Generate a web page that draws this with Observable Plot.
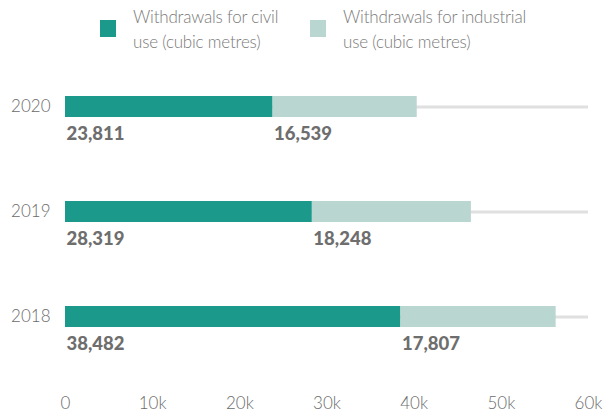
<!DOCTYPE html>
<html>
<head>
<meta charset="utf-8">
<script src="https://cdn.jsdelivr.net/npm/d3@7"></script>
<script src="https://cdn.jsdelivr.net/npm/@observablehq/plot@0.6"></script>
<style>
  html, body { margin: 0; padding: 0; background: #fff; }
  body { width: 603px; height: 414px; overflow: hidden; font-family: Lato, sans-serif; }
  #legend { position: relative; width: 603px; height: 60px; }
  .sw { position: absolute; width: 16px; height: 17px; top: 20px; }
  .lt { position: absolute; top: 5px; font-size: 17px; line-height: 24.5px; color: #7a7a7a; font-weight: 300; letter-spacing: -0.2px; }
  svg { display: block; }
</style>
</head>
<body>
<div id="legend"></div>
<div id="chart"></div>
<script>
const years = ["2020", "2019", "2018"];
const civil = [23811, 28319, 38482];
const industrial = [16539, 18248, 17807];
const seriesNames = ["Withdrawals for civil use (cubic metres)", "Withdrawals for industrial use (cubic metres)"];
const legendLines = [["Withdrawals for civil", "use (cubic metres)"], ["Withdrawals for industrial", "use (cubic metres)"]];
const colors = ["#1b998b", "#b9d6d0"];
const xTicks = [0, 10000, 20000, 30000, 40000, 50000, 60000];
const xTickLabels = ["0", "10k", "20k", "30k", "40k", "50k", "60k"];

// legend
const legend = document.getElementById("legend");
const swX = [100, 310];
const txX = [133, 343];
legendLines.forEach((lines, i) => {
  const s = document.createElement("div");
  s.className = "sw"; s.style.left = swX[i] + "px"; s.style.background = colors[i];
  legend.appendChild(s);
  const t = document.createElement("div");
  t.className = "lt"; t.style.left = txX[i] + "px";
  t.innerHTML = lines.join("<br>");
  legend.appendChild(t);
});

const data = [];
years.forEach((y, i) => {
  data.push({year: y, series: seriesNames[0], start: 0, end: civil[i], value: civil[i]});
  data.push({year: y, series: seriesNames[1], start: civil[i], end: civil[i] + industrial[i], value: industrial[i]});
});

const fmt = d3.format(",");

const chart = Plot.plot({
  width: 603,
  height: 354,
  marginLeft: 65,
  marginRight: 15,
  marginTop: 0,
  marginBottom: 22,
  style: {fontFamily: "Lato, sans-serif", background: "#fff"},
  x: {domain: [0, 60000], axis: null, label: null},
  y: {type: "band", domain: years, range: [-5.5, 309.5], paddingInner: 0.8, paddingOuter: 0.4, axis: null, label: null},
  color: {domain: seriesNames, range: colors},
  marks: [
    Plot.ruleY(years, {y: d => d, x1: 0, x2: 60000, stroke: "#e0e0e0", strokeWidth: 3}),
    Plot.barX(data, {y: "year", x1: "start", x2: "end", fill: "series", inset: 0}),
    Plot.text(data, {y: "year", x: "start", text: d => fmt(d.value), textAnchor: "start", lineAnchor: "top", dx: 1, dy: 20, fill: "#6e6e6e", fontWeight: 900, fontSize: 18.5, style: "letter-spacing:0.9px"}),
    Plot.axisY({tickSize: 0, tickPadding: 15, fontSize: 17, fill: "#6b6b6b", fontWeight: 300, label: null}),
    Plot.axisX({ticks: xTicks, tickFormat: d => xTickLabels[xTicks.indexOf(d)], tickSize: 0, tickPadding: 4, fontSize: 17, fill: "#6b6b6b", fontWeight: 300, label: null})
  ]
});
document.getElementById("chart").appendChild(chart);
</script>
</body>
</html>
